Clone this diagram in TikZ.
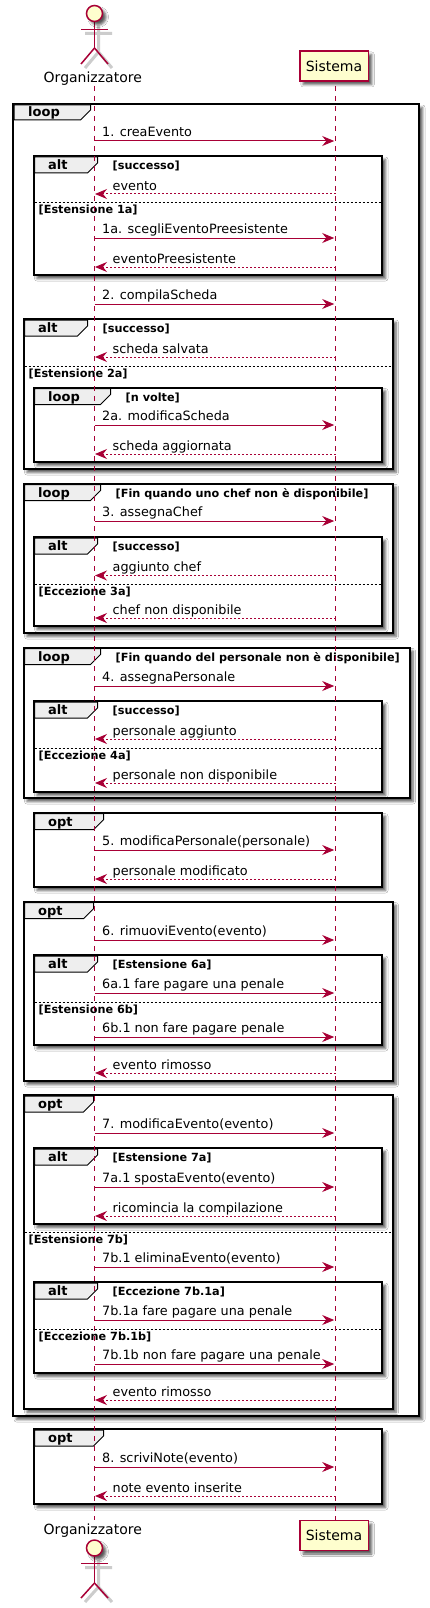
\documentclass[tikz,border=0pt]{standalone}
\usepackage{fontspec}
\setmainfont{DejaVu Sans}
\usetikzlibrary{arrows.meta,shadows.blur}
\definecolor{umlred}{HTML}{A80036}
\definecolor{umlfill}{HTML}{FEFECE}
\definecolor{tabfill}{HTML}{EEEEEE}
\tikzset{
  frag/.style={draw=black, line width=2pt, fill=white, blur shadow={shadow xshift=3.5pt, shadow yshift=-3.5pt, shadow blur steps=5, shadow blur radius=2.5pt, shadow opacity=65}},
  fragtab/.style={draw=black, line width=1pt, fill=tabfill},
  fragsep/.style={draw=black, line width=1pt, dash pattern=on 2pt off 2pt},
  fragtitle/.style={anchor=base west, inner sep=0pt, font=\fontsize{13}{15}\selectfont\bfseries},
  guard/.style={anchor=base west, inner sep=0pt, font=\fontsize{11.25}{13}\selectfont\bfseries},
  msg/.style={anchor=base west, inner sep=0pt, font=\fontsize{12.8}{15}\selectfont},
  call/.style={draw=umlred, line width=1pt, -{Stealth[length=12pt,width=10pt,inset=4pt]}, shorten >=1.3pt},
  reply/.style={draw=umlred, line width=1pt, dash pattern=on 2pt off 2pt, -{Stealth[length=12pt,width=10pt,inset=4pt]}, shorten >=0.5pt},
  lifeline/.style={draw=umlred, line width=1pt, dash pattern=on 5pt off 5pt},
  limb/.style={draw=umlred, line width=1.5pt},
  limbshadow/.style={draw=black!20, line width=3pt, transform canvas={xshift=4pt, yshift=-4pt}},
  headnode/.style={circle, draw=umlred, line width=1.5pt, fill=umlfill, minimum size=16pt, inner sep=0pt, blur shadow={shadow xshift=3.5pt, shadow yshift=-3.5pt, shadow blur steps=4, shadow blur radius=2.5pt, shadow opacity=65}},
  sysbox/.style={rectangle, draw=umlred, line width=1.5pt, fill=umlfill, minimum width=68.5pt, minimum height=30pt, inner sep=0pt, font=\fontsize{14}{16}\selectfont, blur shadow={shadow xshift=3.5pt, shadow yshift=-3.5pt, shadow blur steps=4, shadow blur radius=2.5pt, shadow opacity=65}},
  actorlabel/.style={anchor=base, inner sep=0pt, font=\fontsize{14}{16}\selectfont},
}
\begin{document}
\begin{tikzpicture}[x=1pt,y=-1pt]
\useasboundingbox (0,0) rectangle (429,1608);
\fill[white] (0,0) rectangle (429,1608);
% frames
\draw[frag] (13,104) rectangle (419,1416);
\draw[fragtab] (14,105) -- (90.5,105) -- (90.5,110) -- (80.5,120) -- (14,120) -- cycle;
\node[fragtitle] (tl1) at (28,117) {loop};
\draw[frag] (33.5,156) rectangle (382,275);
\draw[fragtab] (34.5,157) -- (97.5,157) -- (97.5,163) -- (87.5,173) -- (34.5,173) -- cycle;
\node[fragtitle] (ta1) at (48,169.5) {alt};
\node[guard] (gd1) at (112.5,169.5) {[successo]};
\draw[fragsep] (34.5,203) -- (381,203);
\node[guard] (gd1b) at (38.5,214) {[Estensione 1a]};
\draw[frag] (23.5,319) rectangle (392.5,469);
\draw[fragtab] (24.5,320) -- (87.5,320) -- (87.5,326) -- (77.5,336) -- (24.5,336) -- cycle;
\node[fragtitle] (ta2) at (38,332.5) {alt};
\node[guard] (gd2) at (102.5,332.5) {[successo]};
\draw[fragsep] (24.5,366) -- (391.5,366);
\node[guard] (gd2b) at (28.5,377) {[Estensione 2a]};
\draw[frag] (33.5,387.5) rectangle (382,462);
\draw[fragtab] (34.5,388.5) -- (110.5,388.5) -- (110.5,394.5) -- (100.5,404.5) -- (34.5,404.5) -- cycle;
\node[fragtitle] (tl2) at (48,401) {loop};
\node[guard] (gd3) at (125.5,401) {[n volte]};
\draw[frag] (23.5,483.5) rectangle (392.5,633);
\draw[fragtab] (24.5,484.5) -- (100.5,484.5) -- (100.5,490.5) -- (90.5,500.5) -- (24.5,500.5) -- cycle;
\node[fragtitle] (tl3) at (38,497) {loop};
\node[guard] (gd4) at (115.5,497) {[Fin quando uno chef non è disponibile]};
\draw[frag] (33.5,537) rectangle (382,626);
\draw[fragtab] (34.5,538) -- (97.5,538) -- (97.5,544) -- (87.5,554) -- (34.5,554) -- cycle;
\node[fragtitle] (ta3) at (48,550.5) {alt};
\node[guard] (gd5) at (112.5,550.5) {[successo]};
\draw[fragsep] (34.5,584) -- (381,584);
\node[guard] (gd5b) at (38.5,595) {[Eccezione 3a]};
\draw[frag] (23.5,647.5) rectangle (409.5,798);
\draw[fragtab] (24.5,648.5) -- (100.5,648.5) -- (100.5,654.5) -- (90.5,664.5) -- (24.5,664.5) -- cycle;
\node[fragtitle] (tl4) at (38,661) {loop};
\node[guard] (gd6) at (115.5,661) {[Fin quando del personale non è disponibile]};
\draw[frag] (33.5,701) rectangle (382,792);
\draw[fragtab] (34.5,702) -- (97.5,702) -- (97.5,708) -- (87.5,718) -- (34.5,718) -- cycle;
\node[fragtitle] (ta4) at (48,714.5) {alt};
\node[guard] (gd7) at (112.5,714.5) {[successo]};
\draw[fragsep] (34.5,748) -- (381,748);
\node[guard] (gd7b) at (38.5,759) {[Eccezione 4a]};
\draw[frag] (33.5,812.7) rectangle (382,887);
\draw[fragtab] (34.5,813.7) -- (103.5,813.7) -- (103.5,819.7) -- (93.5,829.7) -- (34.5,829.7) -- cycle;
\node[fragtitle] (to1) at (48,826.2) {opt};
\draw[frag] (23.5,901.7) rectangle (392.5,1081);
\draw[fragtab] (24.5,902.7) -- (93.5,902.7) -- (93.5,908.7) -- (83.5,918.7) -- (24.5,918.7) -- cycle;
\node[fragtitle] (to2) at (38,915.2) {opt};
\draw[frag] (33.5,955) rectangle (382,1045);
\draw[fragtab] (34.5,956) -- (97.5,956) -- (97.5,962) -- (87.5,972) -- (34.5,972) -- cycle;
\node[fragtitle] (ta5) at (48,968.5) {alt};
\node[guard] (gd8) at (112.5,968.5) {[Estensione 6a]};
\draw[fragsep] (34.5,1002) -- (381,1002);
\node[guard] (gd8b) at (38.5,1013) {[Estensione 6b]};
\draw[frag] (23.5,1095) rectangle (392.5,1408.7);
\draw[fragtab] (24.5,1096) -- (93.5,1096) -- (93.5,1102) -- (83.5,1112) -- (24.5,1112) -- cycle;
\node[fragtitle] (to3) at (38,1108.5) {opt};
\draw[fragsep] (24.5,1232) -- (391.5,1232);
\node[guard] (gd9b) at (28.5,1243) {[Estensione 7b]};
\draw[frag] (33.5,1148) rectangle (382,1224);
\draw[fragtab] (34.5,1149) -- (97.5,1149) -- (97.5,1155) -- (87.5,1165) -- (34.5,1165) -- cycle;
\node[fragtitle] (ta6) at (48,1161.5) {alt};
\node[guard] (gd9) at (112.5,1161.5) {[Estensione 7a]};
\draw[frag] (33.5,1282) rectangle (382,1373);
\draw[fragtab] (34.5,1283) -- (97.5,1283) -- (97.5,1289) -- (87.5,1299) -- (34.5,1299) -- cycle;
\node[fragtitle] (ta7) at (48,1295.5) {alt};
\node[guard] (gd10) at (112.5,1295.5) {[Eccezione 7b.1a]};
\draw[fragsep] (34.5,1329) -- (381,1329);
\node[guard] (gd10b) at (38.5,1340) {[Eccezione 7b.1b]};
\draw[frag] (33.5,1429) rectangle (382,1504);
\draw[fragtab] (34.5,1430) -- (103.5,1430) -- (103.5,1436) -- (93.5,1446) -- (34.5,1446) -- cycle;
\node[fragtitle] (to4) at (48,1442.5) {opt};
% lifelines
\coordinate (orgtop) at (94.5,86);
\coordinate (orgbot) at (94.5,1520);
\coordinate (systop) at (335.5,86);
\coordinate (sysbot) at (335.5,1520);
\draw[lifeline] (orgtop) -- (orgbot);
\draw[lifeline] (systop) -- (sysbot);
% actors and boxes
\node[sysbox] (sys1) at (334,66) {Sistema};
\node[sysbox] (sys2) at (334,1535.5) {Sistema};
\node[actorlabel] (lab1) at (92.8,82.7) {Organizzatore};
\node[actorlabel] (lab2) at (92.8,1534) {Organizzatore};
\coordinate (neck1) at (94.5,21.5);
\coordinate (hip1) at (94.5,48);
\coordinate (armL1) at (81,29.5);
\coordinate (armR1) at (108,29.5);
\coordinate (legL1) at (81,64);
\coordinate (legR1) at (108,64);
\coordinate (neck2) at (94.5,1556);
\coordinate (hip2) at (94.5,1583);
\coordinate (armL2) at (81,1563.5);
\coordinate (armR2) at (108,1563.5);
\coordinate (legL2) at (81,1598);
\coordinate (legR2) at (108,1598);
\draw[limbshadow] (neck1) -- (hip1) (armL1) -- (armR1) (hip1) -- (legL1) (hip1) -- (legR1);
\draw[limbshadow] (neck2) -- (hip2) (armL2) -- (armR2) (hip2) -- (legL2) (hip2) -- (legR2);
\draw[limb] (neck1) -- (hip1);
\draw[limb] (armL1) -- (armR1);
\draw[limb] (hip1) -- (legL1);
\draw[limb] (hip1) -- (legR1);
\draw[limb] (neck2) -- (hip2);
\draw[limb] (armL2) -- (armR2);
\draw[limb] (hip2) -- (legL2);
\draw[limb] (hip2) -- (legR2);
\node[headnode] (head1) at (94.5,13.5) {};
\node[headnode] (head2) at (94.5,1548) {};
% messages
\foreach \id/\ypos in {m1/141,m2/194,m3/238,m4/267,m5/304,m6/357,m7/425,m8/454,m9/521,m10/575.5,m11/618,m12/686,m13/739,m14/783,m15/850,m16/879,m17/940,m18/993,m19/1037,m20/1073,m21/1133,m22/1187,m23/1216,m24/1267,m25/1320,m26/1364,m27/1400,m28/1467,m29/1496}{
  \coordinate (o\id) at (94.5,\ypos);
  \coordinate (s\id) at (335.5,\ypos);
}
\draw[call] (om1) -- (sm1);
\node[msg] (lm1) at (102,136.5) {1. creaEvento};
\draw[reply] (sm2) -- (om2);
\node[msg] (lm2) at (112.5,190) {evento};
\draw[call] (om3) -- (sm3);
\node[msg] (lm3) at (102,233.5) {1a. scegliEventoPreesistente};
\draw[reply] (sm4) -- (om4);
\node[msg] (lm4) at (112.5,263) {eventoPreesistente};
\draw[call] (om5) -- (sm5);
\node[msg] (lm5) at (102,299.5) {2. compilaScheda};
\draw[reply] (sm6) -- (om6);
\node[msg] (lm6) at (112.5,353) {scheda salvata};
\draw[call] (om7) -- (sm7);
\node[msg] (lm7) at (102,420.5) {2a. modificaScheda};
\draw[reply] (sm8) -- (om8);
\node[msg] (lm8) at (112.5,450) {scheda aggiornata};
\draw[call] (om9) -- (sm9);
\node[msg] (lm9) at (102,516.5) {3. assegnaChef};
\draw[reply] (sm10) -- (om10);
\node[msg] (lm10) at (112.5,571.5) {aggiunto chef};
\draw[reply] (sm11) -- (om11);
\node[msg] (lm11) at (112.5,614) {chef non disponibile};
\draw[call] (om12) -- (sm12);
\node[msg] (lm12) at (102,681.5) {4. assegnaPersonale};
\draw[reply] (sm13) -- (om13);
\node[msg] (lm13) at (112.5,735) {personale aggiunto};
\draw[reply] (sm14) -- (om14);
\node[msg] (lm14) at (112.5,779) {personale non disponibile};
\draw[call] (om15) -- (sm15);
\node[msg] (lm15) at (102,845.5) {5. modificaPersonale(personale)};
\draw[reply] (sm16) -- (om16);
\node[msg] (lm16) at (112.5,875) {personale modificato};
\draw[call] (om17) -- (sm17);
\node[msg] (lm17) at (102,935.5) {6. rimuoviEvento(evento)};
\draw[call] (om18) -- (sm18);
\node[msg] (lm18) at (102,988.5) {6a.1 fare pagare una penale};
\draw[call] (om19) -- (sm19);
\node[msg] (lm19) at (102,1032.5) {6b.1 non fare pagare penale};
\draw[reply] (sm20) -- (om20);
\node[msg] (lm20) at (112.5,1069) {evento rimosso};
\draw[call] (om21) -- (sm21);
\node[msg] (lm21) at (102,1128.5) {7. modificaEvento(evento)};
\draw[call] (om22) -- (sm22);
\node[msg] (lm22) at (102,1182.5) {7a.1 spostaEvento(evento)};
\draw[reply] (sm23) -- (om23);
\node[msg] (lm23) at (112.5,1212) {ricomincia la compilazione};
\draw[call] (om24) -- (sm24);
\node[msg] (lm24) at (102,1262.5) {7b.1 eliminaEvento(evento)};
\draw[call] (om25) -- (sm25);
\node[msg] (lm25) at (102,1315.5) {7b.1a fare pagare una penale};
\draw[call] (om26) -- (sm26);
\node[msg] (lm26) at (102,1359.5) {7b.1b non fare pagare una penale};
\draw[reply] (sm27) -- (om27);
\node[msg] (lm27) at (112.5,1396) {evento rimosso};
\draw[call] (om28) -- (sm28);
\node[msg] (lm28) at (102,1462.5) {8. scriviNote(evento)};
\draw[reply] (sm29) -- (om29);
\node[msg] (lm29) at (112.5,1492) {note evento inserite};
\end{tikzpicture}
\end{document}
